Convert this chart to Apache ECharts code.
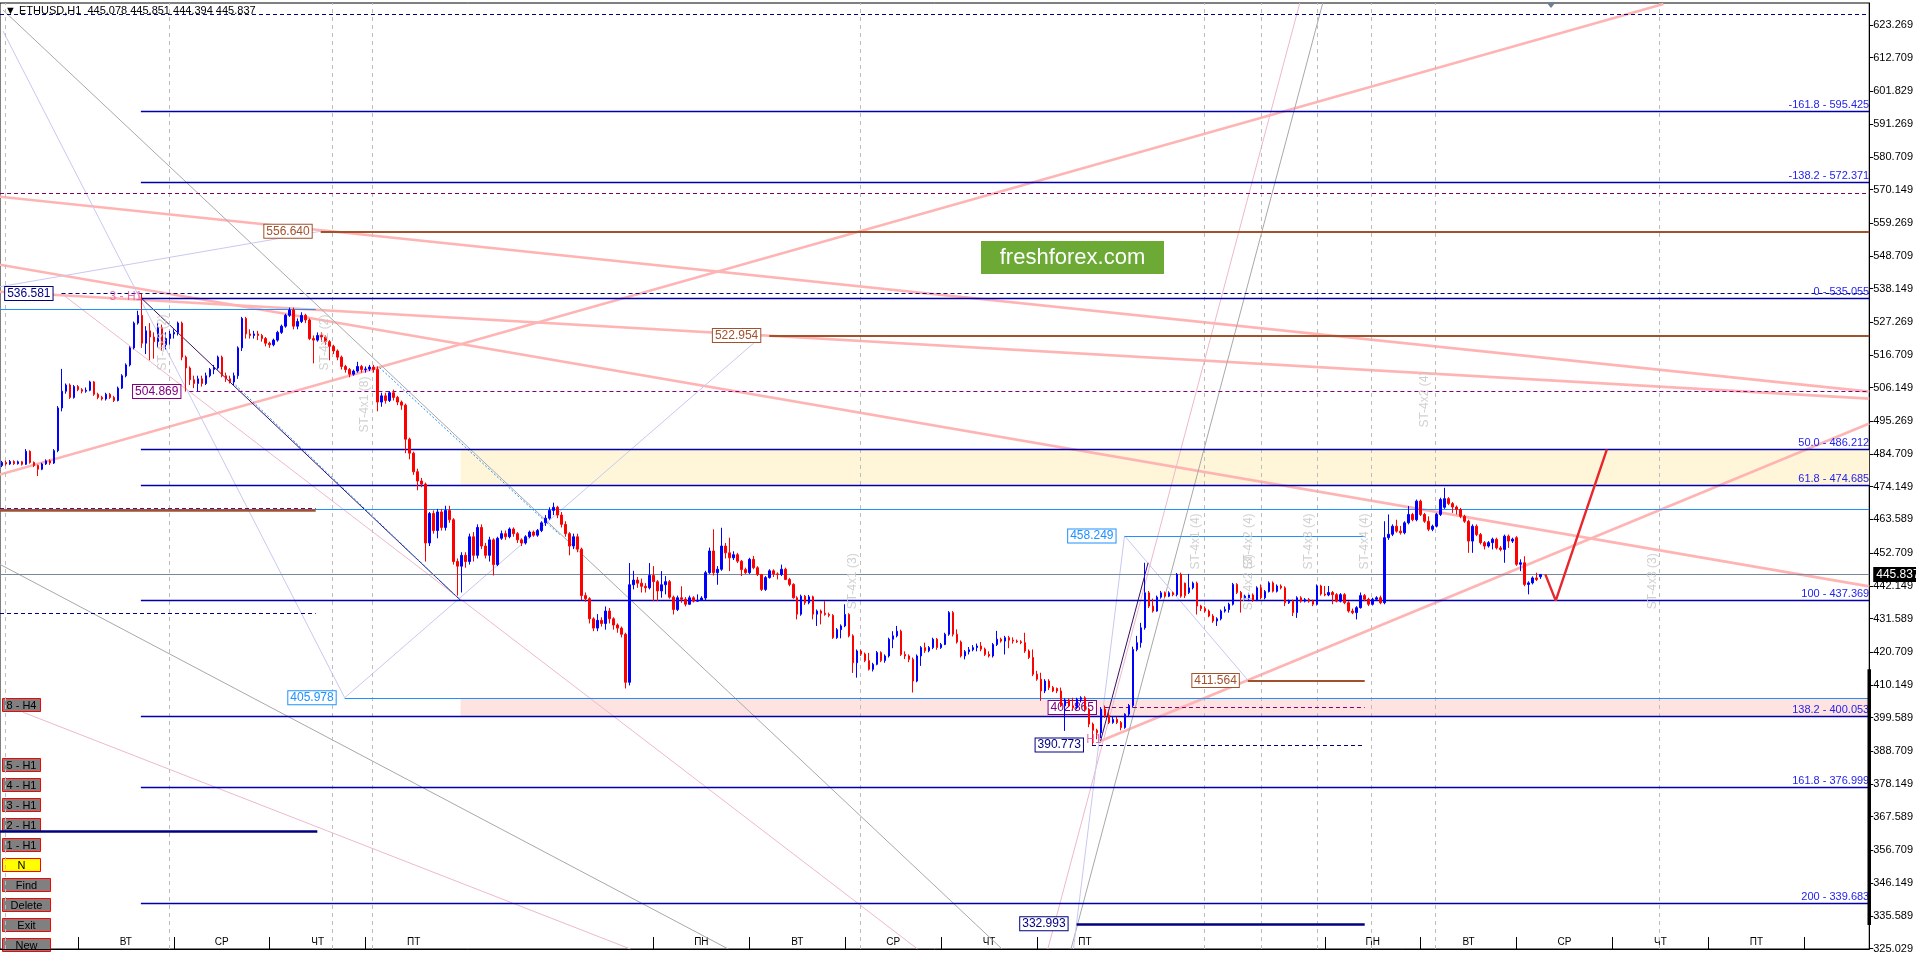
<!DOCTYPE html>
<html><head><meta charset="utf-8">
<script src="https://cdn.jsdelivr.net/npm/echarts@6/dist/echarts.min.js"></script>
<style>html,body{margin:0;padding:0;background:#fff;overflow:hidden}#c{width:1916px;height:954px}</style>
</head><body><div id="c"></div>
<script>
const symbolName = 'ETHUSD,H1';
// hourly candles [open, close, low, high], slot = index
const candles = [
[481.0,482.0,480.5,482.5],[482.0,481.5,481.0,482.6],[481.5,482.3,481.2,482.8],[482.3,481.6,481.2,482.7],[481.6,482.2,481.3,482.6],
[482.2,481.4,481.0,482.5],[481.4,485.6,481.2,486.3],[485.6,482.0,481.6,485.9],[482.0,481.0,480.5,482.3],[481.0,479.8,477.6,481.3],
[479.8,481.5,479.5,481.9],[481.5,482.5,481.2,483.0],[482.5,481.8,481.2,483.0],[481.8,485.8,481.5,486.3],[485.8,499.6,485.3,500.2],
[499.6,505.0,498.5,512.2],[505.0,507.0,504.2,507.5],[507.0,503.0,502.5,507.5],[503.0,506.5,502.6,507.0],[506.5,505.5,505.0,507.0],
[505.5,505.0,504.3,506.0],[505.0,505.3,504.5,506.2],[505.3,508.0,505.0,508.4],[508.0,504.0,503.5,508.3],[504.0,503.0,502.4,504.5],
[503.0,502.5,502.0,503.5],[502.5,504.0,502.0,504.5],[504.0,503.0,502.5,504.4],[503.0,502.0,501.5,503.5],[502.0,506.0,501.7,506.5],
[506.0,510.0,505.7,510.5],[510.0,513.5,509.5,514.0],[513.5,519.0,513.0,519.5],[519.0,527.0,518.5,527.5],[527.0,529.5,526.5,531.0],
[529.5,520.5,519.0,536.58],[520.5,524.5,517.0,526.0],[524.5,522.5,515.0,527.0],[522.5,521.0,515.5,524.0],[521.0,525.5,519.0,527.0],
[525.5,520.0,518.0,526.5],[520.0,522.0,518.5,524.0],[522.0,523.5,520.0,524.5],[523.5,524.0,522.0,525.0],[524.0,527.0,523.0,527.5],
[527.0,516.0,515.0,527.5],[516.0,512.5,504.87,516.5],[512.5,508.7,507.0,513.0],[508.7,507.5,506.0,510.0],[507.5,509.0,505.0,510.0],
[509.0,507.5,506.5,510.0],[507.5,510.0,507.0,511.0],[510.0,512.0,509.5,512.5],[512.0,512.5,510.5,513.5],[512.5,516.0,512.0,516.5],
[516.0,510.0,509.5,516.5],[510.0,509.0,508.0,511.0],[509.0,508.0,507.5,510.0],[508.0,510.0,507.0,511.0],[510.0,519.0,509.0,519.5],
[519.0,528.5,518.0,529.0],[528.5,523.5,522.0,529.0],[523.5,523.0,522.0,525.0],[523.0,523.5,522.0,524.5],[523.5,523.0,521.5,524.5],
[523.0,522.0,521.0,523.5],[522.0,520.5,519.5,522.5],[520.5,520.0,519.0,521.0],[520.0,521.5,519.5,522.0],[521.5,524.0,521.0,524.5],
[524.0,526.0,523.5,526.5],[526.0,529.5,525.5,530.0],[529.5,531.2,529.0,532.0],[531.2,526.0,525.0,532.0],[526.0,527.5,525.0,528.5],
[527.5,529.5,527.0,530.5],[529.5,528.0,527.0,530.0],[528.0,522.0,521.5,528.5],[522.0,521.5,514.0,523.0],[521.5,523.0,521.0,524.0],
[523.0,522.5,521.0,524.0],[522.5,521.0,520.0,523.0],[521.0,519.5,515.0,521.5],[519.5,518.0,517.0,520.0],[518.0,516.0,515.0,518.5],
[516.0,513.0,512.0,516.5],[513.0,512.0,511.0,513.5],[512.0,510.5,509.5,512.5],[510.5,511.5,510.0,512.0],[511.5,513.0,511.0,514.5],
[513.0,512.0,511.0,513.5],[512.0,512.2,511.0,513.0],[512.2,512.8,511.5,513.5],[512.8,512.0,511.0,513.5],[512.0,501.5,498.5,513.0],
[501.5,503.5,500.0,504.5],[503.5,502.0,501.0,504.5],[502.0,504.5,501.5,505.0],[504.5,503.0,502.0,505.5],[503.0,501.5,500.5,503.5],
[501.5,500.5,499.0,502.0],[500.5,489.5,485.0,501.0],[489.5,485.0,483.0,490.0],[485.0,479.0,478.0,485.5],[479.0,476.0,473.0,480.0],
[476.0,475.0,474.0,477.0],[475.0,456.0,450.0,475.5],[456.0,465.5,455.0,466.0],[465.5,460.0,459.0,466.5],[460.0,466.0,457.5,467.0],
[466.0,461.0,460.0,467.0],[461.0,466.5,460.0,468.0],[466.5,463.5,462.5,468.0],[463.5,450.0,449.0,464.0],[450.0,448.5,439.0,451.0],
[448.5,452.0,440.0,453.0],[452.0,450.0,448.0,453.0],[450.0,458.0,449.0,459.0],[458.0,452.0,450.0,459.5],[452.0,461.0,451.0,462.0],
[461.0,455.0,454.0,462.0],[455.0,452.0,451.0,456.0],[452.0,457.0,450.0,458.0],[457.0,449.0,445.5,457.5],[449.0,457.5,448.5,458.0],
[457.5,459.0,457.0,460.0],[459.0,458.0,457.0,460.0],[458.0,460.5,457.5,461.0],[460.5,459.0,458.0,461.0],[459.0,457.0,456.0,459.5],
[457.0,456.0,455.0,457.5],[456.0,458.0,455.5,458.5],[458.0,459.5,457.5,460.0],[459.5,458.5,458.0,460.0],[458.5,460.0,458.0,460.5],
[460.0,462.5,459.5,463.0],[462.5,464.0,461.5,465.0],[464.0,466.5,463.5,467.5],[466.5,467.5,465.0,469.0],[467.5,465.0,464.0,468.0],
[465.0,462.0,461.0,466.0],[462.0,459.0,458.0,463.0],[459.0,455.0,452.0,459.5],[455.0,458.0,454.0,459.0],[458.0,454.0,453.0,459.0],
[454.0,439.0,437.5,454.5],[439.0,438.0,437.0,440.0],[438.0,431.5,430.0,438.5],[431.5,428.5,427.5,432.0],[428.5,431.0,427.5,433.0],
[431.0,430.0,429.0,432.0],[430.0,434.0,428.0,435.5],[434.0,431.5,430.0,435.0],[431.5,429.5,428.0,432.0],[429.5,428.5,427.0,430.0],
[428.5,426.5,425.5,429.0],[426.5,411.0,409.0,427.0],[411.0,442.5,410.0,449.5],[442.5,444.0,441.0,447.0],[444.0,443.0,441.5,445.0],
[443.0,442.0,440.0,444.5],[442.0,441.5,440.0,443.0],[441.5,445.5,441.0,449.5],[445.5,443.5,437.2,448.5],[443.5,440.5,437.2,444.0],
[440.5,442.5,438.3,446.9],[442.5,443.5,439.4,445.3],[443.5,438.5,438.0,444.0],[438.5,434.5,432.9,439.0],[434.5,438.3,434.0,439.0],
[438.3,437.8,436.7,442.0],[437.8,436.2,435.5,438.5],[436.2,438.3,436.0,439.0],[438.3,437.2,436.8,438.8],[437.2,437.5,437.0,439.4],
[437.5,438.2,437.3,438.8],[438.2,446.4,437.5,447.0],[446.4,453.4,446.0,454.5],[453.4,446.4,445.5,460.4],[446.4,447.5,442.5,448.5],
[447.5,455.0,447.0,460.9],[455.0,452.8,451.0,456.0],[452.8,451.2,446.9,457.7],[451.2,452.2,450.5,453.3],[452.2,450.1,449.5,452.8],
[450.1,447.4,445.3,450.5],[447.4,446.4,446.0,448.0],[446.4,450.7,446.0,451.2],[450.7,448.0,447.5,451.8],[448.0,445.8,445.3,448.5],
[445.8,441.0,440.5,446.0],[441.0,444.8,440.5,445.3],[444.8,447.0,444.5,447.5],[447.0,446.0,445.0,447.5],[446.0,445.8,444.2,446.5],
[445.8,447.5,445.3,449.0],[447.5,444.2,444.0,448.0],[444.2,442.6,442.0,444.7],[442.6,438.3,438.0,443.0],[438.3,433.0,431.3,438.8],
[433.0,438.8,432.5,439.3],[438.8,436.7,436.0,439.2],[436.7,438.6,436.2,439.2],[438.6,433.0,431.3,439.0],[433.0,434.0,429.2,434.5],
[434.0,433.3,429.7,434.5],[433.3,432.9,432.5,437.2],[432.9,432.6,432.0,433.5],[432.6,425.4,425.0,433.0],[425.4,428.0,425.0,428.5],
[428.0,429.2,425.2,429.7],[429.2,432.9,428.8,436.2],[432.9,426.0,425.5,433.3],[426.0,417.3,414.0,426.5],[417.3,421.1,412.5,421.6],
[421.1,420.1,419.5,421.6],[420.1,418.0,417.5,420.6],[418.0,415.2,414.8,420.5],[415.2,416.8,414.5,417.3],[416.8,420.6,416.5,421.1],
[420.6,418.0,417.5,421.0],[418.0,419.5,417.3,420.0],[419.5,424.9,419.0,425.4],[424.9,426.0,422.0,427.5],[426.0,427.5,425.5,429.2],
[427.5,420.0,419.5,428.0],[420.0,419.5,418.5,421.0],[419.5,418.4,417.5,420.0],[418.4,411.4,407.7,419.0],[411.4,419.5,411.0,420.0],
[419.5,422.2,416.3,422.7],[422.2,421.2,420.5,423.8],[421.2,422.2,420.7,422.7],[422.2,424.9,421.7,425.4],[424.9,422.2,421.5,425.3],
[422.2,423.2,421.8,423.7],[423.2,426.5,423.0,427.0],[426.5,433.5,426.0,434.0],[433.5,426.5,425.8,434.0],[426.5,424.0,423.5,428.1],
[424.0,419.5,419.0,424.5],[419.5,420.9,418.4,421.4],[420.9,421.5,420.0,422.4],[421.5,422.2,421.0,423.0],[422.2,422.7,421.0,423.5],
[422.7,421.7,421.0,424.0],[421.7,420.0,419.5,422.2],[420.0,419.5,419.0,421.0],[419.5,423.2,419.0,423.7],[423.2,424.9,422.7,427.6],
[424.9,424.3,423.8,425.4],[424.3,425.4,420.0,426.0],[425.4,424.6,422.0,426.0],[424.6,424.3,423.5,425.5],[424.3,424.1,423.7,424.8],
[424.1,423.8,423.3,424.6],[423.8,421.1,420.5,427.0],[421.1,419.0,418.5,421.6],[419.0,413.6,413.0,421.6],[413.6,412.0,411.5,414.7],
[412.0,408.2,405.0,414.1],[408.2,411.4,407.5,412.0],[411.4,409.3,408.5,412.0],[409.3,408.2,407.8,409.8],[409.0,408.2,407.5,409.3],
[408.2,403.4,403.0,409.3],[403.4,405.3,395.3,405.8],[405.3,403.4,403.0,405.8],[403.4,402.8,402.0,406.0],[402.8,405.5,402.3,406.0],
[405.5,406.0,404.5,406.5],[406.0,402.3,401.5,406.5],[402.3,397.5,396.5,402.8],[397.5,395.5,390.77,398.0],[395.5,394.7,392.6,396.0],
[394.7,402.3,393.0,403.0],[402.3,400.2,399.5,403.5],[400.2,398.0,397.5,401.5],[398.0,399.0,397.6,400.0],[399.0,398.0,397.5,399.8],
[398.0,396.4,395.5,398.5],[396.4,400.7,396.0,401.0],[400.7,403.5,400.0,404.0],[403.5,421.6,402.8,422.5],[421.6,423.8,421.0,426.0],
[423.8,428.6,422.2,430.2],[428.6,439.9,428.0,449.6],[439.9,435.6,435.0,440.5],[435.6,434.0,433.5,438.0],[434.0,438.5,433.8,439.0],
[438.5,439.9,438.0,440.5],[439.9,438.8,438.3,440.3],[438.8,439.9,438.5,440.4],[439.9,439.3,438.8,440.3],[439.3,445.8,438.8,446.3],
[445.8,438.8,438.3,446.4],[443.0,439.0,438.2,443.2],[440.0,441.5,439.5,446.0],[441.5,443.0,441.0,443.5],[443.0,435.6,432.9,443.5],
[435.6,434.8,434.0,436.0],[434.8,434.0,433.5,435.5],[434.0,432.4,432.0,434.5],[432.4,430.8,430.2,433.0],[430.8,431.5,429.2,432.0],
[431.5,434.0,431.0,434.5],[434.0,434.5,433.5,435.5],[434.5,436.2,433.5,436.7],[436.2,442.6,435.8,443.1],[442.6,440.0,439.5,443.0],
[440.0,438.3,433.5,440.5],[438.3,438.8,437.8,439.3],[438.3,439.2,437.2,439.7],[439.2,437.5,437.0,439.7],[437.5,441.5,437.2,442.0],
[441.5,438.3,437.8,442.6],[438.3,440.3,437.8,440.8],[440.3,443.1,440.0,443.6],[443.1,440.4,440.0,443.6],[440.4,442.1,440.0,442.6],
[442.1,441.5,441.0,442.6],[441.5,436.7,435.6,442.0],[436.7,437.2,436.3,437.7],[437.2,433.5,432.4,437.7],[433.5,438.3,431.8,438.8],
[438.3,437.2,436.7,438.8],[437.2,437.7,436.8,438.2],[437.7,437.2,436.7,438.2],[437.2,436.2,435.6,437.7],[436.2,442.1,435.8,442.6],
[442.1,439.5,439.0,442.5],[439.5,439.2,438.8,442.1],[439.2,440.0,438.8,442.1],[440.0,439.3,436.2,440.5],[439.3,437.2,436.8,439.8],
[437.2,439.3,436.8,439.8],[439.3,436.7,436.2,439.8],[436.7,434.0,433.5,437.2],[434.0,433.5,433.0,434.8],[433.5,435.1,431.3,435.6],
[435.1,439.0,434.8,440.0],[439.0,437.8,437.2,439.5],[437.8,436.2,435.6,438.3],[436.2,437.8,435.8,438.3],[437.8,438.3,437.3,438.8],
[438.3,436.7,436.2,439.0],[436.7,457.7,436.2,463.0],[457.7,458.8,457.0,465.2],[458.8,461.4,458.2,462.0],[461.4,459.8,459.3,463.5],
[459.8,459.3,458.7,461.5],[459.3,462.5,458.8,463.0],[462.5,465.2,462.0,467.9],[465.2,463.5,463.0,465.7],[463.5,469.5,463.0,470.0],
[469.5,465.2,464.7,470.0],[465.2,463.0,462.5,465.7],[463.0,460.4,459.8,464.6],[460.4,461.4,459.8,461.9],[461.4,465.2,461.0,465.7],
[465.2,470.0,464.7,470.6],[467.5,470.3,467.0,473.8],[470.3,468.7,468.2,470.8],[468.7,467.6,465.7,469.2],[467.6,466.8,465.2,468.1],
[466.8,464.6,464.0,467.3],[464.6,463.0,462.5,465.1],[463.0,456.6,452.8,463.5],[456.6,461.4,452.8,462.0],[461.4,458.7,458.2,462.0],
[458.7,456.1,455.5,459.2],[456.1,455.0,453.9,456.6],[455.0,456.1,454.5,456.6],[456.1,457.2,453.9,457.7],[457.2,454.4,453.9,457.7],
[454.4,453.9,453.3,455.0],[453.9,458.2,449.6,458.7],[458.2,456.6,454.4,458.7],[456.6,457.2,456.0,457.7],[457.7,449.1,448.6,458.2],
[449.1,449.6,446.9,450.7],[449.6,442.6,442.0,451.7],[442.6,443.1,439.4,443.6],[443.1,444.7,442.6,445.2],[444.7,444.2,443.7,446.4],
[445.078,445.837,444.394,445.851]
];
const yTickLabels = [623.269,612.709,601.829,591.269,580.709,570.149,559.269,548.709,538.149,527.269,516.709,506.149,495.269,484.709,474.149,463.589,452.709,442.149,431.589,420.709,410.149,399.589,388.709,378.149,367.589,356.709,346.149,335.589,325.029];
const dayStartSlots = [19,43,67,91,163,187,211,235,259,331,355,379,403,427,451];
const dayNames = ['ВТ','СР','ЧТ','ПТ','ПН','ВТ','СР','ЧТ','ПТ','ПН','ВТ','СР','ЧТ','ПТ'];
const fibLevels = ['-161.8','-138.2','0','50.0','61.8','100','138.2','161.8','200'];
const fibPrices = [595.425,572.371,535.055,486.212,474.685,437.369,400.053,376.999,339.683];
const fibStartSlot = 34.75;
// [price, fromSlot, toSlot]  (toSlot null = right edge)
const navyDashedBoxed = [[536.581,14.9,null],[390.773,272.75,341]];
const brownBoxed = [[556.640,79.75,null],[522.954,192,null],[411.564,311.75,341]];
const purpleDashedBoxed = [[504.869,46.9,null],[402.865,276,341]];
const dodgerBoxed = [[405.978,85.75,null],[458.249,280.9,341]];
const navyThickBoxed = [[332.993,268.9,341]];
const navyDashedPlain = [[626.66,-0.5,null],[433.17,-0.5,78.5]];
const purpleDashedPlain = [[569.07,-0.5,null],[467.36,-0.5,78.5]];
const dodgerPlain = [[531.33,-0.5,78.5],[467.03,-0.5,null]];
const brownThickPlain = [[466.40,-0.5,78.5]];
const navyThickPlain = [[363.03,-0.5,78.9]];
// zones [fromSlot, lowPrice, highPrice]
const yellowZone = [114.75,474.685,486.212];
const pinkZone = [114.75,400.053,405.978];
// diagonal trend lines [[slot,price],[slot,price]]
const pinkThickLines = [
 [[-0.5,567.78],[467.25,504.87]],[[-0.5,537.13],[467.25,502.61]],[[-0.5,545.85],[467.25,441.97]],
 [[-0.5,478.10],[415.75,630.04]],[[274.75,391.96],[467.25,494.55]]];
const pinkThinLines = [[[14.93,536.49],[229.1,324.86]],[[5.25,401.32],[157.25,324.86]],[[261.7,324.86],[324.75,630.37]]];
const greyLines = [[[0.25,628.11],[250.25,324.86]],[[-0.5,449.07],[181.75,324.86]],[[267.5,324.86],[330.5,630.37]]];
const lavenderLines = [[[0.25,621.33],[85.75,405.99]],[[85.75,405.99],[190.25,522.94]],[[-0.5,538.75],[79.75,556.65]],
 [[280.9,458.32],[311.8,411.64]],[[268.1,324.86],[280.9,458.32]]];
const darkPurpleLines = [[[34.75,535.2],[114.75,437.45]],[[274.9,392.06],[286.8,449.61]]];
const dodgerDottedLines = [[[57,508.75],[114.75,437.45]],[[94.5,512.61],[139.5,458.74]]];
const forecastPath = [[386.2,445.837],[388.8,437.369],[401.6,486.212]];
const verticalSlots = [0.9,41.75,82.75,92.75,214.75,300.75,315,329,342.75,358.75,414.75];
const studyTexts = [[40.25,520.7,'ST-4x3 (2)'],[80.75,520.7,'ST-4x2 (2)'],[90.75,500.7,'ST-4x1 (8)'],[212.75,443.6,'ST-4x1 (3)'],
 [298.75,456.5,'ST-4x1 (4)'],[311.9,456.5,'ST-4x2 (4)'],[311.9,443.3,'ST-4x2 (3)'],[327,456.5,'ST-4x3 (4)'],[341,456.5,'ST-4x4 (4)'],
 [356,502.3,'ST-4x2 (4)'],[413,443.6,'ST-4x3 (3)']];
const waveTexts = [[31,535.5,'3 - H1'],[273.25,392.6,'H1']];
const buttonsSmall = ['8 - H4','5 - H1','4 - H1','3 - H1','2 - H1','1 - H1','N'];
const buttonsWide = ['Find','Delete','Exit','New'];

const X_MIN = -0.5, X_MAX = 467.25, Y_MIN = 324.86, Y_MAX = 630.37;
const FONT = "'Liberation Sans Narrow','Liberation Sans',Arial,sans-serif";
const chart = echarts.init(document.getElementById('c'), null, {renderer:'canvas'});

const labelMap = {};
dayNames.forEach((n,i)=>{ labelMap[dayStartSlots[i]+12] = n; });
const labelSlots = dayNames.map((n,i)=>dayStartSlots[i]+12);

function hseg(p, from, to, ls, label){
  return [{coord:[from,p], lineStyle:ls, label: label || {show:false}}, {coord:[to==null?X_MAX:to,p]}];
}
const FIB_COLOR = '#0000AA', FIB_TEXT = '#2323EE';
const hLines = [];
fibPrices.forEach((p,i)=>hLines.push(hseg(p,fibStartSlot,null,{color:FIB_COLOR,width:1.3,type:'solid'},
  {show:true,position:'insideEndTop',formatter:fibLevels[i]+' - '+p.toFixed(3),color:FIB_TEXT,fontSize:11,fontFamily:FONT,distance:[0,1]})));
function boxed(arr,color,width,type,textColor){
  arr.forEach(a=>hLines.push(hseg(a[0],a[1],a[2],{color,width,type},
   {show:true,position:'start',distance:9,formatter:a[0].toFixed(3),color:textColor||color,fontSize:12,fontFamily:FONT,
    backgroundColor:'#fff',borderColor:color,borderWidth:1,padding:[1,2,0,2]})));
}
function plain(arr,color,width,type){ arr.forEach(a=>hLines.push(hseg(a[0],a[1],a[2],{color,width,type}))); }
const DASH=[4,3];
boxed(navyDashedBoxed,'#000080',1,DASH);
boxed(brownBoxed,'#A0522D',2,'solid');
boxed(purpleDashedBoxed,'#800080',1,DASH);
boxed(dodgerBoxed,'#1E90FF',1.2,'solid');
boxed(navyThickBoxed,'#000080',2.5,'solid');
plain(navyDashedPlain,'#000080',1,DASH);
plain(purpleDashedPlain,'#80005A',1,DASH);
plain(dodgerPlain,'#1E90FF',1.2,'solid');
plain(brownThickPlain,'#A0522D',2.5,'solid');
plain(navyThickPlain,'#000080',2.5,'solid');

function diag(lines,color,width,type,z){
  return lines.map(l=>({type:'line',data:l,showSymbol:false,symbol:'none',silent:true,animation:false,z:z||2,
    lineStyle:{color,width,type:type||'solid'}}));
}
const last = candles[candles.length-1];
const series = [
 {type:'line',data:[],silent:true,z:1,
  markArea:{silent:true,data:[
   [{coord:[yellowZone[0],yellowZone[1]],itemStyle:{color:'#FFF6DA'}},{coord:[X_MAX,yellowZone[2]]}],
   [{coord:[pinkZone[0],pinkZone[1]],itemStyle:{color:'#FFE3E1'}},{coord:[X_MAX,pinkZone[2]]}]]},
  markLine:{silent:true,symbol:['none','none'],animation:false,label:{show:false},
   lineStyle:{color:'#BDBDBD',type:[4,4],width:1},data:verticalSlots.map(s=>({xAxis:s}))}},
 ...diag(pinkThickLines,'#FFB4B4',2.6,'solid',2),
 ...diag(pinkThinLines,'#EEB8CC',1,'solid',2),
 ...diag(greyLines,'#A8A8A8',1,'solid',2),
 ...diag(lavenderLines,'#C8C8F2',1,'solid',2),
 ...diag(darkPurpleLines,'#3A1060',1,'solid',3),
 ...diag(dodgerDottedLines,'#1E90FF',1,[2,2],3),
 {type:'line',data:[],silent:true,z:3,
  markLine:{silent:true,symbol:['none','none'],animation:false,precision:3,data:hLines}},
 {type:'candlestick',z:5,silent:true,animation:false,
  data:candles.map((c,i)=>[i,c[0],c[1],c[2],c[3]]),
  encode:{x:0,y:[1,2,3,4]},barWidth:2,
  itemStyle:{color:'#0000FF',color0:'#FF0000',borderColor:'#0000FF',borderColor0:'#FF0000',borderWidth:1},
  markLine:{silent:true,symbol:['none','none'],animation:false,
   data:[{yAxis:last[1],lineStyle:{color:'#778899',width:1.2,type:'solid'},
    label:{show:true,position:'end',distance:4,formatter:last[1].toFixed(3),color:'#fff',backgroundColor:'#000',
      fontSize:12,fontFamily:FONT,padding:[2,3,1,3]}}]}},
 {type:'line',data:forecastPath,showSymbol:false,symbol:'none',silent:true,z:6,lineStyle:{color:'#E8262B',width:2.4}},
 {type:'scatter',z:6,silent:true,symbolSize:1,itemStyle:{color:'transparent'},
  data:studyTexts.map(t=>({value:[t[0],t[1]],label:{formatter:t[2]}})),
  label:{show:true,position:'inside',rotate:90,color:'#C4C4C4',fontSize:12,fontFamily:FONT}},
 {type:'scatter',z:6,silent:true,symbolSize:1,itemStyle:{color:'transparent'},
  data:waveTexts.map(t=>({value:[t[0],t[1]],label:{formatter:t[2]}})),
  label:{show:true,position:'inside',color:'#E0509A',fontSize:12,fontFamily:FONT}},
 {type:'line',data:[[X_MAX,415.2],[X_MAX,332.6]],showSymbol:false,symbol:'none',silent:true,clip:false,z:7,
  lineStyle:{color:'#000',width:3.5}}
];

const graphics = [
 {type:'text',left:5,top:5,z:100,style:{text:'▼ '+symbolName+'  '+[last[0],last[3],last[2],last[1]].map(v=>v.toFixed(3)).join(' '),
   font:'11px '+FONT,fill:'#000'}},
 {type:'polygon',z:100,shape:{points:[[1546,2],[1556,2],[1551,8]]},style:{fill:'#708090'}},
 {type:'group',left:981,top:241,z:100,children:[
   {type:'rect',shape:{x:0,y:0,width:183,height:33},style:{fill:'#6CA935'}},
   {type:'text',style:{text:'freshforex.com',x:91.5,y:17,align:'center',verticalAlign:'middle',font:'22px "Liberation Sans",Arial,sans-serif',fill:'#fff'}}]}
];
const smallTops = [698,758,778,798,818,838,858];
buttonsSmall.forEach((b,i)=>graphics.push({type:'group',left:2,top:smallTops[i],z:100,children:[
  {type:'rect',shape:{x:0,y:0,width:38,height:13},style:{fill:b==='N'?'#FFFF00':'#808080',stroke:'#FF0000',lineWidth:1}},
  {type:'text',style:{text:b,x:19,y:7,align:'center',verticalAlign:'middle',font:'11px "Liberation Sans",Arial,sans-serif',fill:'#000'}}]}));
const wideTops = [878,898,918,938];
buttonsWide.forEach((b,i)=>graphics.push({type:'group',left:2,top:wideTops[i],z:100,children:[
  {type:'rect',shape:{x:0,y:0,width:48,height:13},style:{fill:'#808080',stroke:'#FF0000',lineWidth:1}},
  {type:'text',style:{text:b,x:24,y:7,align:'center',verticalAlign:'middle',font:'11px "Liberation Sans",Arial,sans-serif',fill:'#000'}}]}));

chart.setOption({
 animation:false,
 backgroundColor:'#fff',
 grid:{left:0,right:45,top:3,bottom:4,show:true,borderColor:'#000',borderWidth:1,backgroundColor:'#fff'},
 xAxis:{type:'value',min:X_MIN,max:X_MAX,splitLine:{show:false},
  axisLine:{show:true,onZero:false,lineStyle:{color:'#000',width:1}},
  axisTick:{show:true,inside:true,length:12,customValues:dayStartSlots,lineStyle:{color:'#000'}},
  axisLabel:{inside:true,margin:2,customValues:labelSlots,formatter:v=>labelMap[Math.round(v)]||'',
   fontSize:10,color:'#000',fontFamily:FONT}},
 yAxis:{type:'value',position:'right',min:Y_MIN,max:Y_MAX,splitLine:{show:false},
  axisLine:{show:true,onZero:false,lineStyle:{color:'#000',width:1}},
  axisTick:{show:true,length:4,customValues:yTickLabels,lineStyle:{color:'#000'}},
  axisLabel:{customValues:yTickLabels,formatter:v=>v.toFixed(3),fontSize:11,color:'#000',margin:4,fontFamily:FONT}},
 graphic:graphics,
 series:series
});
</script></body></html>
